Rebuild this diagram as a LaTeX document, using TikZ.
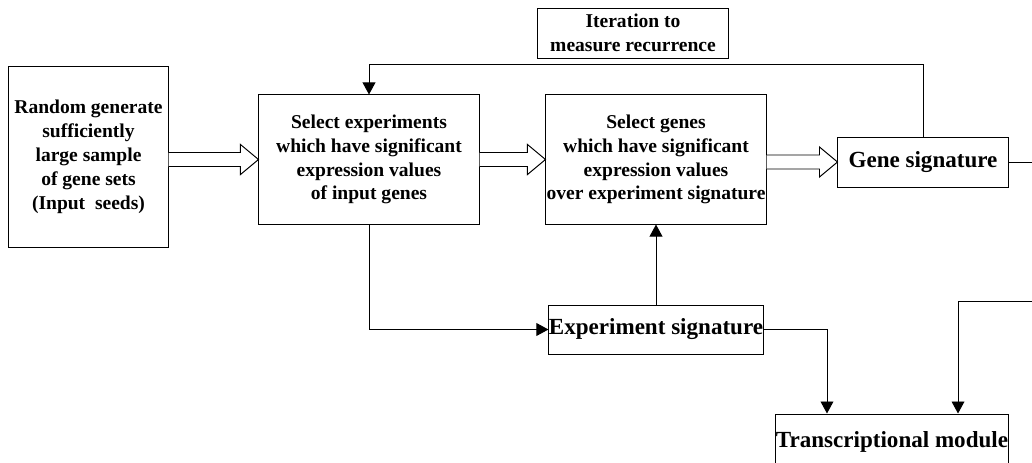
\documentclass[tikz,border=0pt]{standalone}
\usepackage{fontspec}
\setmainfont{Liberation Serif}
\usetikzlibrary{arrows.meta,calc}

% hollow block arrow between two named boxes
\newcommand{\fatarrow}[2]{%
    \path (#1.east |- #2.west) coordinate (fa-s) (#2.west) coordinate (fa-t);
    \draw[fat] ($(fa-s)+(0,-7)$) -- ($(fa-t)+(-18,-7)$) -- ($(fa-t)+(-18,-15)$) -- (fa-t)
        -- ($(fa-t)+(-18,15)$) -- ($(fa-t)+(-18,7)$) -- ($(fa-s)+(0,7)$);}

\begin{document}
\begin{tikzpicture}[
    x=0.025cm, y=-0.025cm,
    every node/.style={font=\bfseries\fontsize{13.9}{17}\selectfont},
    box/.style={rectangle, draw, line width=0.7pt, inner sep=0pt, align=center},
    bigbox/.style={box, font=\bfseries\fontsize{16.4}{19}\selectfont},
    fat/.style={line width=0.7pt, fill=white, line join=miter},
    arrow/.style={-{Triangle[length=0.3cm, width=0.32cm]}, line width=0.7pt},
    line/.style={line width=0.7pt}
]
    \useasboundingbox (0,0) rectangle (1032,462);
    \clip (0,0) rectangle (1032,462);

% -------------------------
% Boxes - top row
% -------------------------
    \node[box, minimum width=3.975cm, minimum height=4.5cm] (seeds) at (88.5,157)
        {Random generate\\sufficiently\\large sample\\of gene sets\\(Input~~seeds)};
    \node[box, minimum width=5.5cm, minimum height=3.225cm] (selexp) at (369,159.5)
        {Select experiments\\which have significant\\expression values\\of input genes};
    \node[box, minimum width=5.5cm, minimum height=3.225cm] (selgene) at (656,159.5)
        {Select genes\\which have significant\\expression values\\over experiment signature};
    \node[bigbox, minimum width=4.25cm, minimum height=1.25cm] (genesig) at (923,162) {Gene signature};
    \node[box, minimum width=4.75cm, minimum height=1.25cm] (iter) at (633,33)
        {Iteration to\\measure recurrence};

% -------------------------
% Boxes - lower part
% -------------------------
    \node[bigbox, minimum width=5.25cm, minimum height=1.225cm] (expsig) at (656,329.5) {Experiment signature};
    \node[bigbox, minimum width=5.75cm, minimum height=1.4cm] (module) at (892,442) {Transcriptional module};

    % free ends running off the right side
    \coordinate (gsout) at (1045,162);
    \coordinate (modin) at (1045,301);

% -------------------------
% Arrows & Routing
% -------------------------
    \fatarrow{seeds}{selexp}
    \fatarrow{selexp}{selgene}
    \fatarrow{selgene}{genesig}

    % feedback loop
    \draw[arrow] (genesig.north) -- ++(0,-72) -| (selexp.north);

    \draw[arrow] (selexp.south) |- (expsig.west);
    \draw[arrow] (expsig.north) -- (selgene.south);
    \draw[arrow] (expsig.east) -| ([xshift=-1.625cm]module.north);

    \draw[line] (genesig.east) -- (gsout);
    \draw[arrow] (modin) -| ([xshift=1.65cm]module.north);
\end{tikzpicture}
\end{document}
